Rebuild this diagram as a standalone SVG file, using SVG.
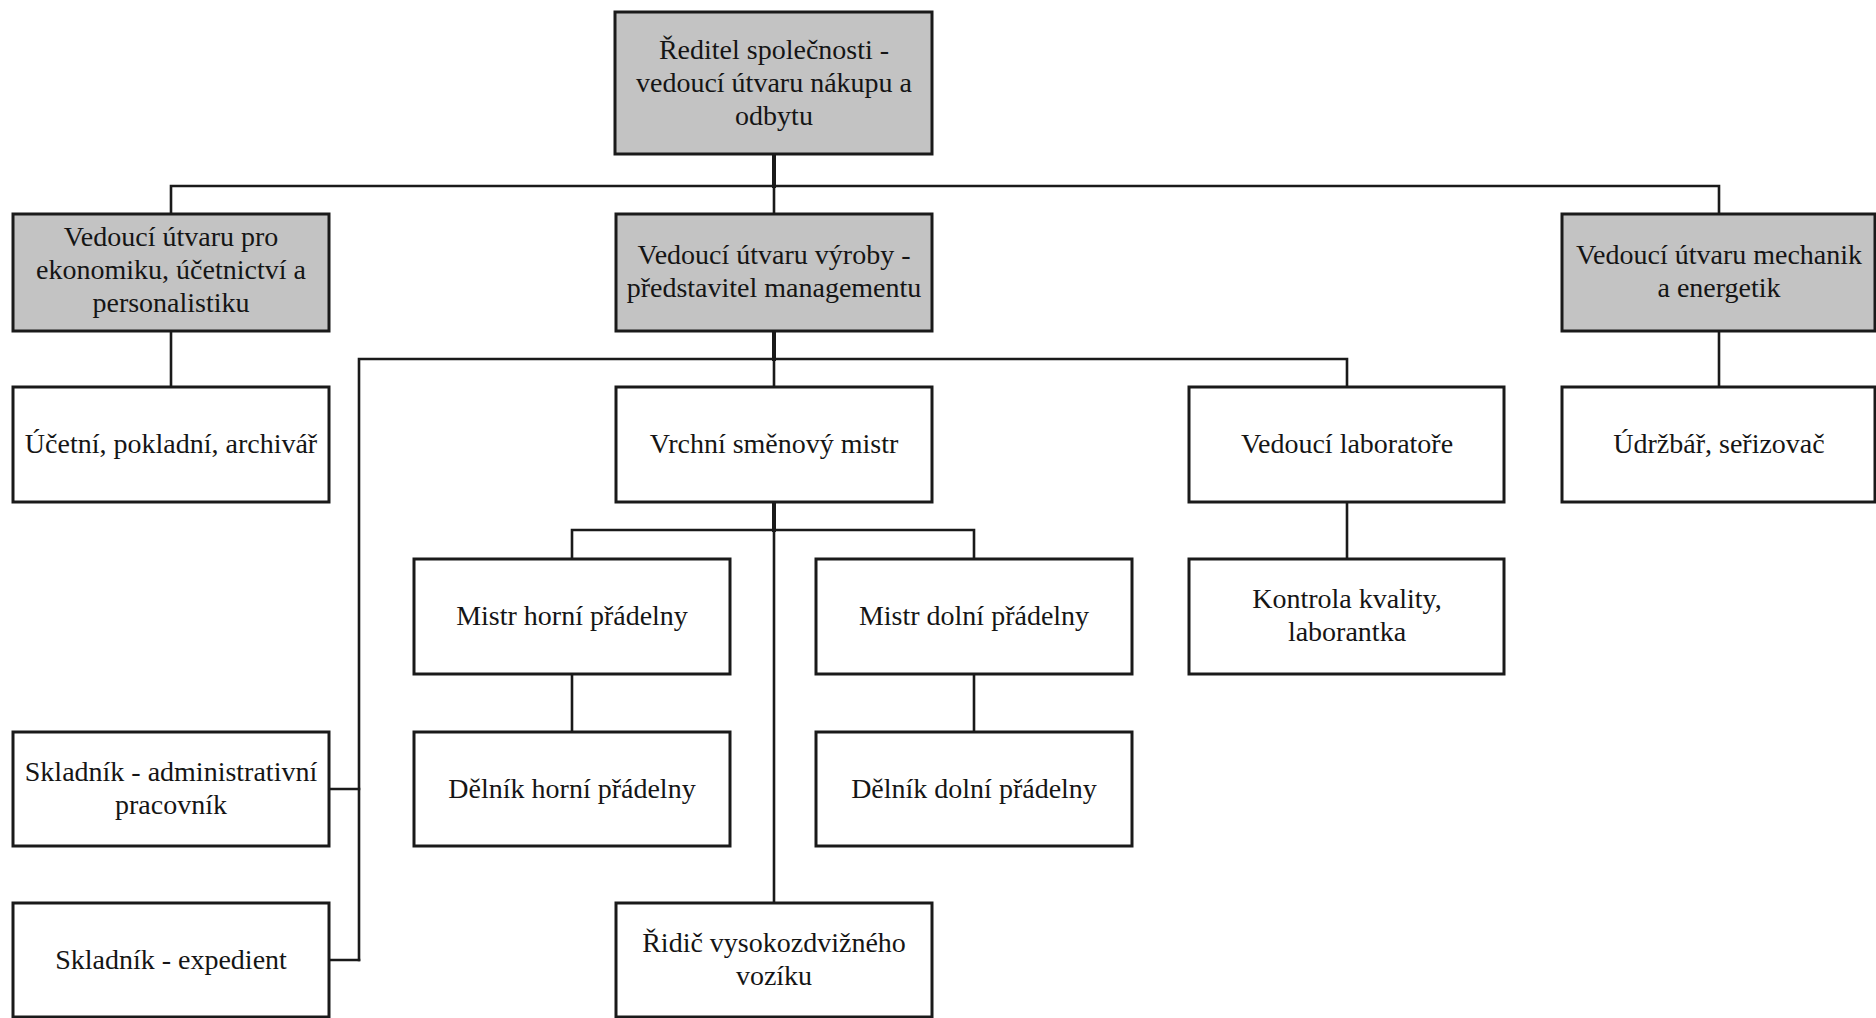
<svg xmlns="http://www.w3.org/2000/svg" width="1876" height="1018" viewBox="0 0 1876 1018">
  <style>
    .box { fill: #ffffff; stroke: #1a1a1a; stroke-width: 3; }
    .head { fill: #c3c3c3; }
    .lbl { font-family: "Liberation Serif", "Times New Roman", serif; font-size: 28px; fill: #151515; text-anchor: middle; }
    .wire { fill: none; stroke: #1a1a1a; stroke-width: 2.6; stroke-linecap: square; }
    .trunk { stroke-width: 4; }
  </style>
  <rect width="1876" height="1018" fill="#ffffff"/>

  <!-- connectors -->
  <g id="connectors">
    <!-- director to department heads -->
    <path class="wire trunk" d="M774 154 V186"/>
    <path class="wire" d="M171 214 V186 H1719 V214 M774 186 V214"/>
    <!-- economics head -->
    <path class="wire" d="M171 331 V387"/>
    <!-- production head branches -->
    <path class="wire trunk" d="M774 331 V359"/>
    <path class="wire" d="M359 960 V359 H1347 V387 M774 359 V387"/>
    <path class="wire" d="M329 789 H359 M329 960 H359"/>
    <!-- mechanic head -->
    <path class="wire" d="M1719 331 V387"/>
    <!-- shift master branches -->
    <path class="wire trunk" d="M774 502 V530"/>
    <path class="wire" d="M572 559 V530 H974 V559 M774 530 V903"/>
    <path class="wire" d="M572 674 V731 M974 674 V731"/>
    <!-- laboratory -->
    <path class="wire" d="M1347 502 V559"/>
  </g>

  <g id="n-reditel">
    <rect class="box head" x="615" y="12" width="317" height="142"/>
    <text class="lbl" x="774" y="59">Ředitel společnosti -</text>
    <text class="lbl" x="774" y="92">vedoucí útvaru nákupu a</text>
    <text class="lbl" x="774" y="125">odbytu</text>
  </g>

  <g id="n-ekonomika">
    <rect class="box head" x="13" y="214" width="316" height="117"/>
    <text class="lbl" x="171" y="246">Vedoucí útvaru pro</text>
    <text class="lbl" x="171" y="279">ekonomiku, účetnictví a</text>
    <text class="lbl" x="171" y="312">personalistiku</text>
  </g>

  <g id="n-vyroba">
    <rect class="box head" x="616" y="214" width="316" height="117"/>
    <text class="lbl" x="774" y="264">Vedoucí útvaru výroby -</text>
    <text class="lbl" x="774" y="297">představitel managementu</text>
  </g>

  <g id="n-mechanik">
    <rect class="box head" x="1562" y="214" width="313" height="117"/>
    <text class="lbl" x="1719" y="264">Vedoucí útvaru mechanik</text>
    <text class="lbl" x="1719" y="297">a energetik</text>
  </g>

  <g id="n-ucetni">
    <rect class="box" x="13" y="387" width="316" height="115"/>
    <text class="lbl" x="171" y="453">Účetní, pokladní, archivář</text>
  </g>

  <g id="n-vrchni">
    <rect class="box" x="616" y="387" width="316" height="115"/>
    <text class="lbl" x="774" y="453">Vrchní směnový mistr</text>
  </g>

  <g id="n-laborator">
    <rect class="box" x="1189" y="387" width="315" height="115"/>
    <text class="lbl" x="1347" y="453">Vedoucí laboratoře</text>
  </g>

  <g id="n-udrzbar">
    <rect class="box" x="1562" y="387" width="313" height="115"/>
    <text class="lbl" x="1719" y="453">Údržbář, seřizovač</text>
  </g>

  <g id="n-mistr-horni">
    <rect class="box" x="414" y="559" width="316" height="115"/>
    <text class="lbl" x="572" y="625">Mistr horní přádelny</text>
  </g>

  <g id="n-mistr-dolni">
    <rect class="box" x="816" y="559" width="316" height="115"/>
    <text class="lbl" x="974" y="625">Mistr dolní přádelny</text>
  </g>

  <g id="n-kontrola">
    <rect class="box" x="1189" y="559" width="315" height="115"/>
    <text class="lbl" x="1347" y="608">Kontrola kvality,</text>
    <text class="lbl" x="1347" y="641">laborantka</text>
  </g>

  <g id="n-skladnik-admin">
    <rect class="box" x="13" y="732" width="316" height="114"/>
    <text class="lbl" x="171" y="781">Skladník - administrativní</text>
    <text class="lbl" x="171" y="814">pracovník</text>
  </g>

  <g id="n-delnik-horni">
    <rect class="box" x="414" y="732" width="316" height="114"/>
    <text class="lbl" x="572" y="798">Dělník horní přádelny</text>
  </g>

  <g id="n-delnik-dolni">
    <rect class="box" x="816" y="732" width="316" height="114"/>
    <text class="lbl" x="974" y="798">Dělník dolní přádelny</text>
  </g>

  <g id="n-skladnik-expedient">
    <rect class="box" x="13" y="903" width="316" height="114"/>
    <text class="lbl" x="171" y="969">Skladník - expedient</text>
  </g>

  <g id="n-ridic">
    <rect class="box" x="616" y="903" width="316" height="114"/>
    <text class="lbl" x="774" y="952">Řidič vysokozdvižného</text>
    <text class="lbl" x="774" y="985">vozíku</text>
  </g>
</svg>
